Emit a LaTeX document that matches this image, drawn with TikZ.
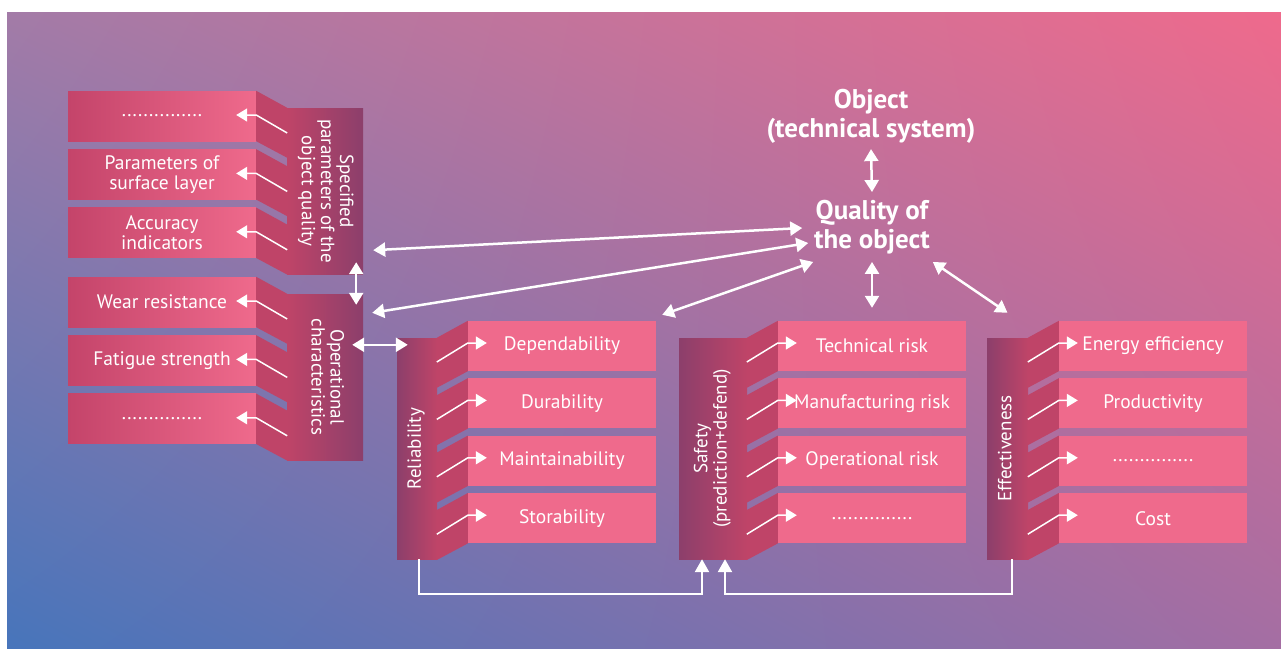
\documentclass[tikz,border=0pt]{standalone}
\usepackage{fontspec}
\setmainfont{PT Sans}
\usetikzlibrary{arrows.meta,positioning,shadings}

\definecolor{bgul}{HTML}{A37BA7}
\definecolor{bgur}{HTML}{EF6A8C}
\definecolor{bgll}{HTML}{4775BB}
\definecolor{bglr}{HTML}{A46EA3}
\definecolor{itempink}{HTML}{EF6A8C}
\definecolor{itemdeep}{HTML}{C4446A}
\definecolor{slantpink}{HTML}{BF4468}
\definecolor{bardark}{HTML}{8C3F6B}

\tikzstyle{item} = [rectangle, fill=itempink, text=white, minimum width=188pt,
    minimum height=50pt, inner sep=0pt, align=center, font=\fontsize{19.5}{19.5}\selectfont]
\tikzstyle{leftitem} = [item, left color=itemdeep, right color=itempink]
\tikzstyle{bar} = [rectangle, text=white, inner sep=0pt, font=\fontsize{19}{19}\selectfont]
\tikzstyle{slant} = [fill=slantpink]
\tikzstyle{title} = [text=white, align=center, inner sep=0pt, font=\bfseries\fontsize{27}{29}\selectfont]
\tikzstyle{link} = [draw=white, line width=2.5pt,
    {Triangle[length=12pt,width=14pt]}-{Triangle[length=12pt,width=14pt]}]
\tikzstyle{tick} = [draw=white, line width=1.5pt, -{Triangle[length=11pt,width=13pt]}]
\tikzstyle{flow} = [draw=white, line width=2.5pt, -{Triangle[length=13pt,width=14pt]}]

\newcommand{\bartext}[2]{\rotatebox{#1}{\begin{tabular}{@{}c@{}}#2\end{tabular}}}

\begin{document}
\begin{tikzpicture}[x=1pt,y=-1pt,node distance=8pt]
  \useasboundingbox (0,0) rectangle (1281,648);
  \shade[upper left=bgul, upper right=bgur, lower left=bgll, lower right=bglr]
    (7,12) rectangle (1281,648);

  % object and its quality
  \node[title, outer sep=6pt] (obj)  at (871,116) {Object\\(technical system)};
  \node[title, outer sep=8pt] (qual) at (872,227) {Quality of\\the object};

  % specified parameters
  \node[leftitem] (sp1) at (162,116) {...............};
  \node[leftitem] (sp2) [below=of sp1] {Parameters of\\surface layer};
  \node[leftitem] (sp3) [below=of sp2] {Accuracy\\indicators};
  \node[bar, left color=slantpink, right color=bardark, minimum width=76pt,
        minimum height=166pt] (spec) at (325,191)
        {\bartext{-90}{Specified\\parameters of the\\object quality}};

  % operational characteristics
  \node[leftitem] (op1) at (162,302) {Wear resistance};
  \node[leftitem] (op2) [below=of op1] {Fatigue strength};
  \node[leftitem] (op3) [below=of op2] {...............};
  \node[bar, left color=slantpink, right color=bardark, minimum width=76pt,
        minimum height=166pt] (oper) at (325,377)
        {\bartext{-90}{Operational\\characteristics}};

  % reliability
  \node[item] (re1) at (562,346) {Dependability};
  \node[item] (re2) [below=7pt of re1] {Durability};
  \node[item] (re3) [below=7pt of re2] {Maintainability};
  \node[item] (re4) [below=7pt of re3] {Storability};
  \node[bar, left color=bardark, right color=slantpink, minimum width=40pt,
        minimum height=221pt] (rel) at (417,448.5) {\bartext{90}{Reliability}};

  % safety
  \node[item] (sa1) at (872,346) {Technical risk};
  \node[item] (sa2) [below=7pt of sa1] {Manufacturing risk};
  \node[item] (sa3) [below=7pt of sa2] {Operational risk};
  \node[item] (sa4) [below=7pt of sa3] {...............};
  \node[bar, left color=bardark, right color=slantpink, minimum width=68pt,
        minimum height=221pt] (saf) at (713,448.5)
        {\bartext{90}{Safety\\(prediction+defend)}};

  % effectiveness
  \node[item] (ef1) at (1153,346) {Energy efficiency};
  \node[item] (ef2) [below=7pt of ef1] {Productivity};
  \node[item] (ef3) [below=7pt of ef2] {...............};
  \node[item] (ef4) [below=7pt of ef3] {Cost};
  \node[bar, left color=bardark, right color=slantpink, minimum width=41pt,
        minimum height=221pt] (eff) at (1007.5,448.5) {\bartext{90}{Effectiveness}};

  \foreach \n in {sp1,sp2,sp3,op1,op2,op3} {
    \fill[slant] (\n.north east) -- ++(31,17) -- ++(0,50) -- (\n.south east) -- cycle;
    \draw[tick] ([shift={(31,17)}]\n.east) -- ([shift={(0,-1)}]\n.east) -- ++(-20,0);
  }
  \foreach \n in {re1,re2,re3,re4,sa1,sa2,sa3,sa4,ef1,ef2,ef3,ef4} {
    \fill[slant] (\n.north west) -- ++(-31,17) -- ++(0,50) -- (\n.south west) -- cycle;
    \draw[tick] ([shift={(-31,16)}]\n.west) -- ([shift={(0,-3)}]\n.west) -- ++(19,0);
  }

  \draw[link] (obj.south) -- (qual.north);
  \draw[link] ([shift={(10,-24)}]spec.south east) -- ([shift={(-4,1)}]qual.west);
  \draw[link] ([shift={(9,19)}]oper.north east) -- ([shift={(2,16)}]qual.west);
  \draw[link] ([shift={(-7,-12)}]spec.south east) -- ([shift={(-7,11)}]oper.north east);
  \draw[link] ([shift={(-11,51)}]oper.north east) -- ([shift={(11,7)}]rel.north west);
  \draw[link] ([shift={(7,0)}]qual.south west) -- ([shift={(6,-6)}]re1.north east);
  \draw[link] (qual.south) -- ([shift={(0,-13)}]sa1.north);
  \draw[link] ([shift={(-5,0)}]qual.south east) -- ([shift={(0,-25)}]eff.north);

  \draw[flow] ([xshift=2pt]rel.south) -- ++(0,35) -| ([xshift=-11pt]saf.south);
  \draw[flow] ([xshift=4.5pt]eff.south) -- ++(0,35) -| ([xshift=12pt]saf.south);
\end{tikzpicture}
\end{document}
